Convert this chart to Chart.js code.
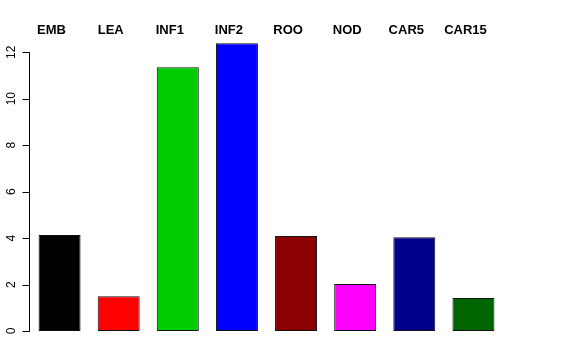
<!DOCTYPE html>
<html>
<head>
<meta charset="utf-8">
<script src="https://cdn.jsdelivr.net/npm/chart.js@4"></script>
<style>
  body { margin: 0; background: #fff; }
</style>
</head>
<body>
<canvas id="myChart" width="576" height="360"></canvas>
<script>
// Data
const labels = ["EMB", "LEA", "INF1", "INF2", "ROO", "NOD", "CAR5", "CAR15"];
const values = [4.13, 1.5, 11.35, 12.39, 4.09, 2.02, 4.04, 1.42];
const colors = ["#000000", "#ff0000", "#00cd00", "#0000ff", "#8b0000", "#ff00ff", "#00008b", "#006400"];
const yTicks = [0, 2, 4, 6, 8, 10, 12];

// draw the R-style left axis and the bold labels on top
const rStyle = {
  id: "rStyle",
  afterDraw(chart) {
    const ctx = chart.ctx;
    const x = chart.scales.x;
    const y = chart.scales.y;
    const axisX = chart.chartArea.left - 0.5;

    ctx.save();
    ctx.strokeStyle = "#000";
    ctx.lineWidth = 1;
    ctx.beginPath();
    ctx.moveTo(axisX, Math.round(y.getPixelForValue(yTicks[0])) + 0.5);
    ctx.lineTo(axisX, Math.round(y.getPixelForValue(yTicks[yTicks.length - 1])) + 0.5);
    yTicks.forEach(function (t) {
      const py = Math.round(y.getPixelForValue(t)) + 0.5;
      ctx.moveTo(axisX, py);
      ctx.lineTo(axisX - 7, py);
    });
    ctx.stroke();

    ctx.fillStyle = "#000";
    ctx.font = "12px 'Liberation Sans', Arial, sans-serif";
    ctx.textAlign = "center";
    ctx.textBaseline = "middle";
    yTicks.forEach(function (t) {
      const py = y.getPixelForValue(t);
      ctx.save();
      ctx.translate(12, py);
      ctx.rotate(-Math.PI / 2);
      ctx.fillText(String(t), 0, 0);
      ctx.restore();
    });

    ctx.font = "bold 13px 'Liberation Sans', Arial, sans-serif";
    ctx.textBaseline = "alphabetic";
    labels.forEach(function (l, i) {
      ctx.fillText(l, x.getPixelForValue(i) - 8, 34);
    });
    ctx.restore();
  },
};

new Chart(document.getElementById("myChart"), {
  type: "bar",
  data: {
    labels: labels,
    datasets: [
      {
        data: values,
        backgroundColor: colors,
        borderColor: "#111",
        borderWidth: 1,
        borderSkipped: false,
        barPercentage: 0.71,
        categoryPercentage: 1.0,
      },
    ],
  },
  options: {
    responsive: false,
    animation: false,
    layout: { padding: { left: 30, right: 73, top: 29, bottom: 29 } },
    plugins: { legend: { display: false }, tooltip: { enabled: false } },
    scales: {
      x: { display: false },
      y: { display: false, min: 0, max: 13 },
    },
  },
  plugins: [rStyle],
});
</script>
</body>
</html>
